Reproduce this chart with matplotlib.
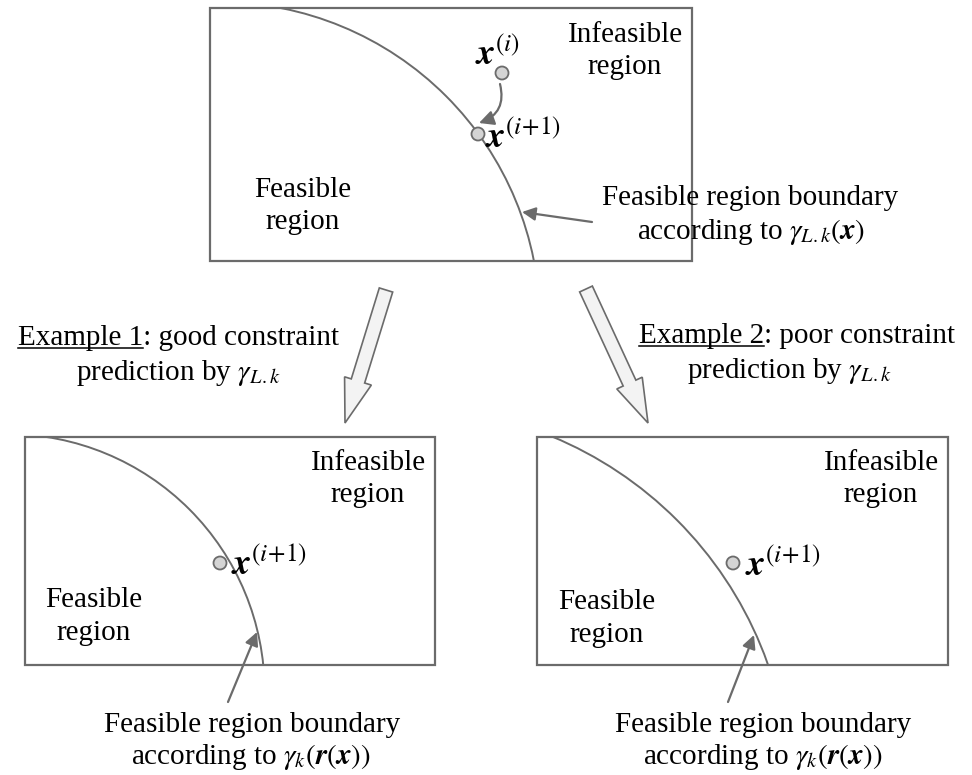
import numpy as np
import matplotlib.pyplot as plt
from matplotlib.patches import Rectangle, Circle, FancyArrow, FancyArrowPatch

plt.rcParams['font.family'] = 'Liberation Serif'
plt.rcParams['mathtext.fontset'] = 'stix'

GREY = '#6b6b6b'
FS = 21

# panels (left, top, right, bottom) in pixels
boxes = [(210, 8, 692, 261), (25, 437, 435, 665), (537, 437, 948, 665)]
# feasible-region boundaries as circle arcs: centre x, centre y, radius
arcs = [(219, 323, 321), (7.6, 691, 257), (404, 793, 386)]
# design points x^(i), x^(i+1)
pt_x = [502, 478, 220, 733]
pt_y = [73, 134, 563, 563]
nxt = r'$\mathbfit{x}^{(i\!+\!1)}$'
pt_lab = [r'$\mathbfit{x}^{(i)}$', nxt, nxt, nxt]
lab_x = [475, 485, 231, 745]
lab_y = [65, 147, 574, 575]

# plain text lines: text, centre x, baseline y
lines = [
    ('Infeasible', 625, 42), ('region', 625, 74),
    ('Feasible', 303, 197), ('region', 303, 229),
    ('Feasible region boundary', 750, 205),
    (r'according to $\gamma_{L.k}(\mathbfit{x})$', 751, 239),
    ('prediction by $\\gamma_{L.k}$', 178, 380),
    ('prediction by $\\gamma_{L.k}$', 789, 378),
    ('Infeasible', 368, 470), ('region', 368, 502),
    ('Feasible', 94, 607), ('region', 94, 640),
    ('Feasible region boundary', 252, 732),
    (r'according to $\gamma_k(\mathbfit{r}(\mathbfit{x}))$', 251, 764),
    ('Infeasible', 881, 470), ('region', 881, 502),
    ('Feasible', 607, 609), ('region', 607, 642),
    ('Feasible region boundary', 763, 732),
    (r'according to $\gamma_k(\mathbfit{r}(\mathbfit{x}))$', 763, 764),
]
# headings with underlined part
heads = [('Example 1', ': good constraint', 178, 345),
         ('Example 2', ': poor constraint', 797, 343)]

# pointer arrows: tail -> tip
ptr_tail = [(592, 222), (228, 702), (728, 702)]
ptr_tip = [(522, 212), (257, 632), (754, 635)]

# big hollow arrows: tail -> tip
big_tail = [(386, 290), (586, 289)]
big_tip = [(345, 423), (648, 423)]

fig = plt.figure(figsize=(9.72, 7.75), dpi=100)
ax = fig.add_axes([0, 0, 1, 1])
ax.set_xlim(0, 972)
ax.set_ylim(775, 0)
ax.axis('off')

for (l, t, r, b), (cx, cy, rad) in zip(boxes, arcs):
    rect = Rectangle((l, t), r - l, b - t, fill=False, ec=GREY, lw=1.6, zorder=2)
    ax.add_patch(rect)
    c = Circle((cx, cy), rad, fill=False, ec=GREY, lw=1.4, zorder=2)
    ax.add_patch(c)
    c.set_clip_path(Rectangle((l, t), r - l, b - t, transform=ax.transData))

for x, y in zip(pt_x, pt_y):
    ax.add_patch(Circle((x, y), 6.5, fc='#d4d4d4', ec=GREY, lw=1.3, zorder=4))
for s, x, y in zip(pt_lab, lab_x, lab_y):
    ax.text(x, y, s, fontsize=FS + 5, ha='left', va='baseline', zorder=5)

# step from x^(i) to x^(i+1)
ax.add_patch(FancyArrowPatch((500, 84), (479, 123), connectionstyle='arc3,rad=-0.45',
                             arrowstyle='-|>', mutation_scale=22, color=GREY, lw=1.6,
                             shrinkA=0, shrinkB=0))

for (tx, ty), (hx, hy) in zip(ptr_tail, ptr_tip):
    ax.annotate('', xy=(hx, hy), xytext=(tx, ty),
                arrowprops=dict(arrowstyle='-|>', color=GREY, lw=1.6, mutation_scale=20,
                                shrinkA=0, shrinkB=0))

for (tx, ty), (hx, hy) in zip(big_tail, big_tip):
    ax.add_patch(FancyArrow(tx, ty, hx - tx, hy - ty, width=14, head_width=28,
                            head_length=44, length_includes_head=True,
                            fc='#f3f3f3', ec=GREY, lw=1.2))

for s, x, y in lines:
    ax.text(x, y, s, fontsize=FS, ha='center', va='baseline')

renderer = fig.canvas.get_renderer()
for ul, rest, x, y in heads:
    full = ax.text(x, y, ul + rest, fontsize=FS, ha='center', va='baseline')
    w_full = full.get_window_extent(renderer).width
    tmp = ax.text(0, 0, ul, fontsize=FS)
    w_ul = tmp.get_window_extent(renderer).width
    tmp.remove()
    x0 = x - w_full / 2
    ax.plot([x0, x0 + w_ul], [y + 3, y + 3], color='black', lw=1.1)

fig.savefig('out.png', dpi=100)
